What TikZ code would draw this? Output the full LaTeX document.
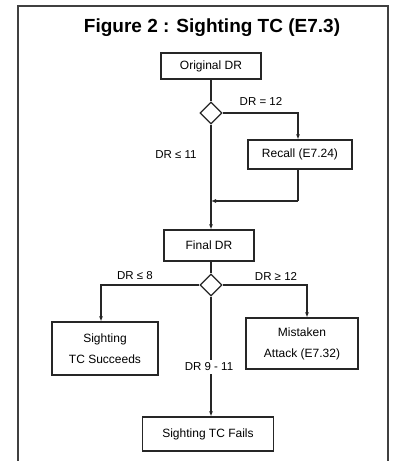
\documentclass[tikz,border=0pt]{standalone}
\usepackage{fontspec}
\setmainfont{Liberation Sans}
\usetikzlibrary{shapes.geometric,arrows.meta}
\begin{document}
\begin{tikzpicture}[x=1pt,y=-1pt,
  box/.style={draw=black!85,line width=1.2pt,minimum height=#1,align=center,inner sep=2pt,font=\fontsize{12}{21}\selectfont},
  box/.default=26pt,
  dec/.style={draw=black!85,line width=1.2pt,diamond,minimum width=22pt,minimum height=22pt,inner sep=0pt},
  conn/.style={line width=1.2pt,draw=black!85},
  arr/.style={conn,-{Latex[length=5pt,width=4pt]}},
  lbl/.style={font=\fontsize{11.5}{13}\selectfont,inner sep=1pt}]
\useasboundingbox (0,0) rectangle (392,461);
\draw[line width=2pt,black!75] (18,461) -- (18,6) -- (388,6) -- (388,461);
\node[font=\bfseries\fontsize{19}{22}\selectfont] (title) at (212,28) {Figure 2 : Sighting TC (E7.3)};
\node[box,minimum width=100pt] (orig) at (211,66) {Original DR};
\node[dec] (d1) at (211,113) {};
\node[box=29pt,minimum width=104pt] (recall) at (300,154.5) {Recall (E7.24)};
\node[box=31pt,minimum width=90pt] (final) at (209,245.5) {Final DR};
\node[dec] (d2) at (211,285) {};
\node[box=53pt,minimum width=106pt] (succ) at (105,348.5) {Sighting\\TC Succeeds};
\node[box=51pt,minimum width=112pt] (mist) at (302,343.5) {Mistaken\\Attack (E7.32)};
\node[box=34pt,minimum width=131pt] (fails) at (208,434) {Sighting TC Fails};
\coordinate (c1) at (298,113);
\coordinate (c2) at (298,201);
\coordinate (c3) at (211,201);
\coordinate (c4) at (101,285);
\coordinate (c5) at (307,285);
\draw[conn] (orig.south -| d1) -- (d1.north);
\draw[arr] (d1.east) -- (c1) -- (c1 |- recall.north);
\draw[arr] (d1.south) -- (d1.south |- final.north);
\draw[conn] (c2 |- recall.south) -- (c2);
\draw[arr] (c2) -- (c3);
\draw[conn] (final.south -| d2) -- (d2.north);
\draw[arr] (d2.west) -- (c4) -- (c4 |- succ.north);
\draw[arr] (d2.east) -- (c5) -- (c5 |- mist.north);
\draw[arr] (d2.south) -- (d2.south |- fails.north);
\node[lbl] (l1) at (261,101) {DR = 12};
\node[lbl] (l2) at (176,155) {DR ≤ 11};
\node[lbl] (l3) at (135,276) {DR ≤ 8};
\node[lbl] (l4) at (276,276) {DR ≥ 12};
\node[lbl,fill=white,inner sep=3pt] (l5) at (209,367) {DR 9 - 11};
\end{tikzpicture}
\end{document}
